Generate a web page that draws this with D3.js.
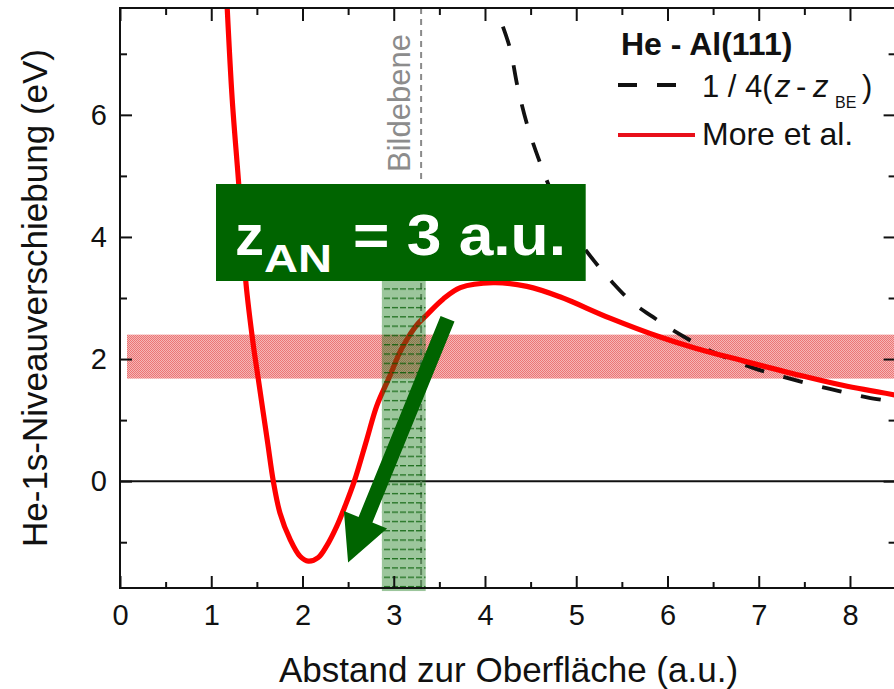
<!DOCTYPE html>
<html>
<head>
<meta charset="utf-8">
<script src="https://cdn.jsdelivr.net/npm/d3@7"></script>
<style>
  body { margin: 0; background: #fff; }
  text { font-family: "Liberation Sans", Arial, Helvetica, sans-serif; }
</style>
</head>
<body>
<svg id="chart" width="894" height="689"></svg>
<script>
"use strict";

// He 1s level shift in front of Al(111), More et al.
var moreX = [1.175, 1.23, 1.30, 1.38, 1.46, 1.516, 1.57, 1.62, 1.68, 1.753, 1.863, 1.973, 2.064, 2.173, 2.265, 2.375,
             2.466, 2.568, 2.704, 2.813, 2.95, 3.07, 3.16, 3.26, 3.36, 3.54, 3.73, 4.09, 4.46, 4.82, 5.37, 5.92,
             6.28, 6.83, 7.38, 7.92, 8.50];
var moreY = [7.75, 6.25, 4.89, 3.25, 2.24, 1.67, 1.12, 0.61, 0.0, -0.52, -0.95, -1.23, -1.31, -1.25, -1.06, -0.74,
             -0.41, 0.0, 0.68, 1.23, 1.70, 2.12, 2.36, 2.57, 2.72, 2.98, 3.17, 3.25, 3.19, 3.02, 2.67, 2.36,
             2.19, 1.97, 1.76, 1.57, 1.41];

// image potential curve 1/4(z - z_BE)
var imageX = [4.12, 4.27, 4.36, 4.47, 4.62, 4.80, 5.00, 5.20, 5.40, 5.62, 5.84, 6.05, 6.27, 6.49, 6.68, 6.93,
              7.12, 7.34, 7.56, 7.78, 7.98, 8.20, 8.50];
var imageY = [7.75, 7.11, 6.44, 5.80, 5.15, 4.50, 4.00, 3.60, 3.25, 2.92, 2.69, 2.48, 2.29, 2.12, 2.00, 1.86,
              1.77, 1.68, 1.59, 1.51, 1.44, 1.37, 1.30];

var xTicks = [0, 1, 2, 3, 4, 5, 6, 7, 8];
var xMinor = [0.5, 1.5, 2.5, 3.5, 4.5, 5.5, 6.5, 7.5];
var yTicks = [0, 2, 4, 6];
var yMinor = [-1, 1, 3, 5, 7];

var redBand = [1.68, 2.40];          // eV range
var greenBandX = [2.87, 3.35];       // a.u.
var greenBandY = [-1.8, 3.28];
var imagePlane = 3.3;                // Bildebene

var svg = d3.select("#chart");

var margin = { left: 120, top: 8, right: 895.6, bottom: 588 };
var _x = d3.scaleLinear().domain([0, 8.5]).range([margin.left, margin.right]);
var _y = d3.scaleLinear().domain([-1.75, 7.75]).range([margin.bottom, margin.top]);

var defs = svg.append("defs");
defs.append("clipPath").attr("id", "plotclip").append("rect")
    .attr("x", margin.left).attr("y", margin.top)
    .attr("width", margin.right - margin.left).attr("height", margin.bottom - margin.top);

// checker texture for the red band
var pr = defs.append("pattern").attr("id", "redpat").attr("patternUnits", "userSpaceOnUse")
    .attr("width", 2).attr("height", 2);
pr.append("rect").attr("width", 2).attr("height", 2).attr("fill", "rgba(225,40,40,0.34)");
pr.append("rect").attr("width", 1).attr("height", 1).attr("fill", "rgba(225,40,40,0.46)");
pr.append("rect").attr("x", 1).attr("y", 1).attr("width", 1).attr("height", 1).attr("fill", "rgba(225,40,40,0.46)");

// green band: checker plus horizontal dashes
var pg = defs.append("pattern").attr("id", "greenpat").attr("patternUnits", "userSpaceOnUse")
    .attr("width", 8).attr("height", 9.3);
pg.append("rect").attr("width", 8).attr("height", 9.3).attr("fill", "rgba(20,120,20,0.42)");
pg.append("rect").attr("y", 0).attr("width", 6).attr("height", 1.3).attr("fill", "rgba(0,90,0,0.8)");

// red band
svg.append("rect")
    .attr("x", _x(0) + 7).attr("y", _y(redBand[1]))
    .attr("width", margin.right - _x(0) - 7).attr("height", _y(redBand[0]) - _y(redBand[1]))
    .attr("fill", "url(#redpat)");

var plot = svg.append("g").attr("clip-path", "url(#plotclip)");

// zero line
plot.append("line")
    .attr("x1", margin.left).attr("x2", margin.right)
    .attr("y1", _y(0)).attr("y2", _y(0))
    .attr("stroke", "#111").attr("stroke-width", 2);

var line = d3.line()
    .x(function (d) { return _x(d[0]); })
    .y(function (d) { return _y(d[1]); })
    .curve(d3.curveCatmullRom.alpha(0.5));

plot.append("path")
    .datum(d3.zip(imageX, imageY))
    .attr("d", line)
    .attr("fill", "none").attr("stroke", "#111").attr("stroke-width", 3.8)
    .attr("stroke-dasharray", "20,20").attr("stroke-dashoffset", 20);

plot.append("path")
    .datum(d3.zip(moreX, moreY))
    .attr("d", line)
    .attr("fill", "none").attr("stroke", "#f00").attr("stroke-width", 5.2)
    .attr("stroke-linejoin", "round");

// image plane
svg.append("line")
    .attr("x1", _x(imagePlane)).attr("x2", _x(imagePlane))
    .attr("y1", _y(7.75)).attr("y2", _y(-1.75))
    .attr("stroke", "#8a8a8a").attr("stroke-width", 2).attr("stroke-dasharray", "6,5");

svg.append("text")
    .attr("transform", "translate(410,103) rotate(-90)")
    .attr("text-anchor", "middle")
    .attr("font-size", 31).attr("fill", "#8c8c8c")
    .text("Bildebene");

// green band
svg.append("rect")
    .attr("x", _x(greenBandX[0])).attr("y", _y(greenBandY[1]))
    .attr("width", _x(greenBandX[1]) - _x(greenBandX[0]))
    .attr("height", _y(greenBandY[0]) - _y(greenBandY[1]))
    .attr("fill", "url(#greenpat)");

// axes
function styleAxis(g) {
  g.select(".domain").remove();
  g.selectAll(".tick line").attr("stroke", "#111").attr("stroke-width", 2);
  g.selectAll(".tick text").attr("font-size", 29).attr("fill", "#111")
      .attr("font-family", "\"Liberation Sans\", Arial, sans-serif");
}

svg.append("g").attr("transform", "translate(0," + margin.bottom + ")")
    .call(d3.axisBottom(_x).tickValues(xTicks).tickFormat(d3.format("d"))
      .tickSizeInner(-12).tickSizeOuter(0).tickPadding(16))
    .call(styleAxis);
svg.append("g").attr("transform", "translate(0," + margin.bottom + ")")
    .call(d3.axisBottom(_x).tickValues(xMinor).tickFormat("").tickSizeInner(-6).tickSizeOuter(0))
    .call(styleAxis);
svg.append("g").attr("transform", "translate(0," + margin.top + ")")
    .call(d3.axisTop(_x).tickValues(xTicks).tickFormat("").tickSizeInner(-13).tickSizeOuter(0))
    .call(styleAxis);
svg.append("g").attr("transform", "translate(0," + margin.top + ")")
    .call(d3.axisTop(_x).tickValues(xMinor).tickFormat("").tickSizeInner(-7).tickSizeOuter(0))
    .call(styleAxis);

svg.append("g").attr("transform", "translate(" + margin.left + ",0)")
    .call(d3.axisLeft(_y).tickValues(yTicks).tickFormat(d3.format("d"))
      .tickSizeInner(-12).tickSizeOuter(0).tickPadding(13))
    .call(styleAxis);
svg.append("g").attr("transform", "translate(" + margin.left + ",0)")
    .call(d3.axisLeft(_y).tickValues(yMinor).tickFormat("").tickSizeInner(-7).tickSizeOuter(0))
    .call(styleAxis);
svg.append("g").attr("transform", "translate(" + margin.right + ",0)")
    .call(d3.axisRight(_y).tickValues(yTicks).tickFormat("").tickSizeInner(-12).tickSizeOuter(0))
    .call(styleAxis);
svg.append("g").attr("transform", "translate(" + margin.right + ",0)")
    .call(d3.axisRight(_y).tickValues(yMinor).tickFormat("").tickSizeInner(-7).tickSizeOuter(0))
    .call(styleAxis);

svg.append("rect")
    .attr("x", margin.left).attr("y", margin.top)
    .attr("width", margin.right - margin.left).attr("height", margin.bottom - margin.top)
    .attr("fill", "none").attr("stroke", "#111").attr("stroke-width", 2);

// axis titles
svg.append("text")
    .attr("x", (280 + 737) / 2).attr("y", 682)
    .attr("text-anchor", "middle").attr("font-size", 35).attr("fill", "#111")
    .text("Abstand zur Oberfläche (a.u.)");

svg.append("text")
    .attr("transform", "translate(47," + (margin.top + margin.bottom) / 2 + ") rotate(-90)")
    .attr("text-anchor", "middle").attr("font-size", 35).attr("fill", "#111")
    .text("He-1s-Niveauverschiebung (eV)");

// legend
var legend = svg.append("g");
legend.append("text").attr("x", 621).attr("y", 55)
    .attr("font-size", 32).attr("font-weight", "bold").attr("fill", "#111")
    .text("He - Al(111)");
legend.append("line").attr("x1", 618).attr("x2", 678).attr("y1", 85).attr("y2", 85)
    .attr("stroke", "#111").attr("stroke-width", 4).attr("stroke-dasharray", "19,20");
var lt = legend.append("text").attr("y", 97).attr("font-size", 31).attr("fill", "#111");
lt.append("tspan").attr("x", 702).text("1 / 4(");
lt.append("tspan").attr("x", 775).attr("font-style", "italic").text("z");
lt.append("tspan").attr("x", 796).text("-");
lt.append("tspan").attr("x", 813).attr("font-style", "italic").text("z");
lt.append("tspan").attr("x", 835).attr("y", 108).attr("font-size", 16).text("BE");
lt.append("tspan").attr("x", 862).attr("y", 97).text(")");
legend.append("line").attr("x1", 618).attr("x2", 695).attr("y1", 135).attr("y2", 135)
    .attr("stroke", "#e8101a").attr("stroke-width", 4);
legend.append("text").attr("x", 702).attr("y", 145)
    .attr("font-size", 32).attr("fill", "#111")
    .text("More et al.");

// z_AN label box
var green = "#006400";
svg.append("rect")
    .attr("x", 216).attr("y", 184).attr("width", 585.7 - 216).attr("height", 281 - 184)
    .attr("fill", green);
var boxFont = "Lato, \"Open Sans\", sans-serif";
svg.append("text").attr("x", 235).attr("y", 255)
    .attr("font-family", boxFont).attr("font-weight", "bold").attr("font-size", 58).attr("fill", "#fff")
    .text("z");
svg.append("text").attr("x", 264).attr("y", 272)
    .attr("font-family", boxFont).attr("font-weight", "bold").attr("font-size", 38).attr("fill", "#fff")
    .attr("textLength", 68).attr("lengthAdjust", "spacingAndGlyphs")
    .text("AN");
svg.append("text").attr("x", 353).attr("y", 255)
    .attr("font-family", boxFont).attr("font-weight", "bold").attr("font-size", 58).attr("fill", "#fff")
    .attr("textLength", 213).attr("lengthAdjust", "spacingAndGlyphs")
    .text("= 3 a.u.");

// arrow pointing into the potential well
var arrowFrom = [3.59, 2.66], arrowTo = [2.50, -1.33];
var S = [_x(arrowFrom[0]), _y(arrowFrom[1])], T = [_x(arrowTo[0]), _y(arrowTo[1])];
var dx = T[0] - S[0], dy = T[1] - S[1], len = Math.sqrt(dx * dx + dy * dy);
var u = [dx / len, dy / len], n = [-u[1], u[0]];
var shaft = 7.5, head = 23.3, headLen = 46;
var B = [T[0] - u[0] * headLen, T[1] - u[1] * headLen];
function pt(p, k) { return [p[0] + n[0] * k, p[1] + n[1] * k]; }
svg.append("polygon")
    .attr("points", [pt(S, shaft), pt(B, shaft), pt(B, head), T, pt(B, -head), pt(B, -shaft), pt(S, -shaft)]
      .map(function (p) { return p[0].toFixed(1) + "," + p[1].toFixed(1); }).join(" "))
    .attr("fill", green);
</script>
</body>
</html>
